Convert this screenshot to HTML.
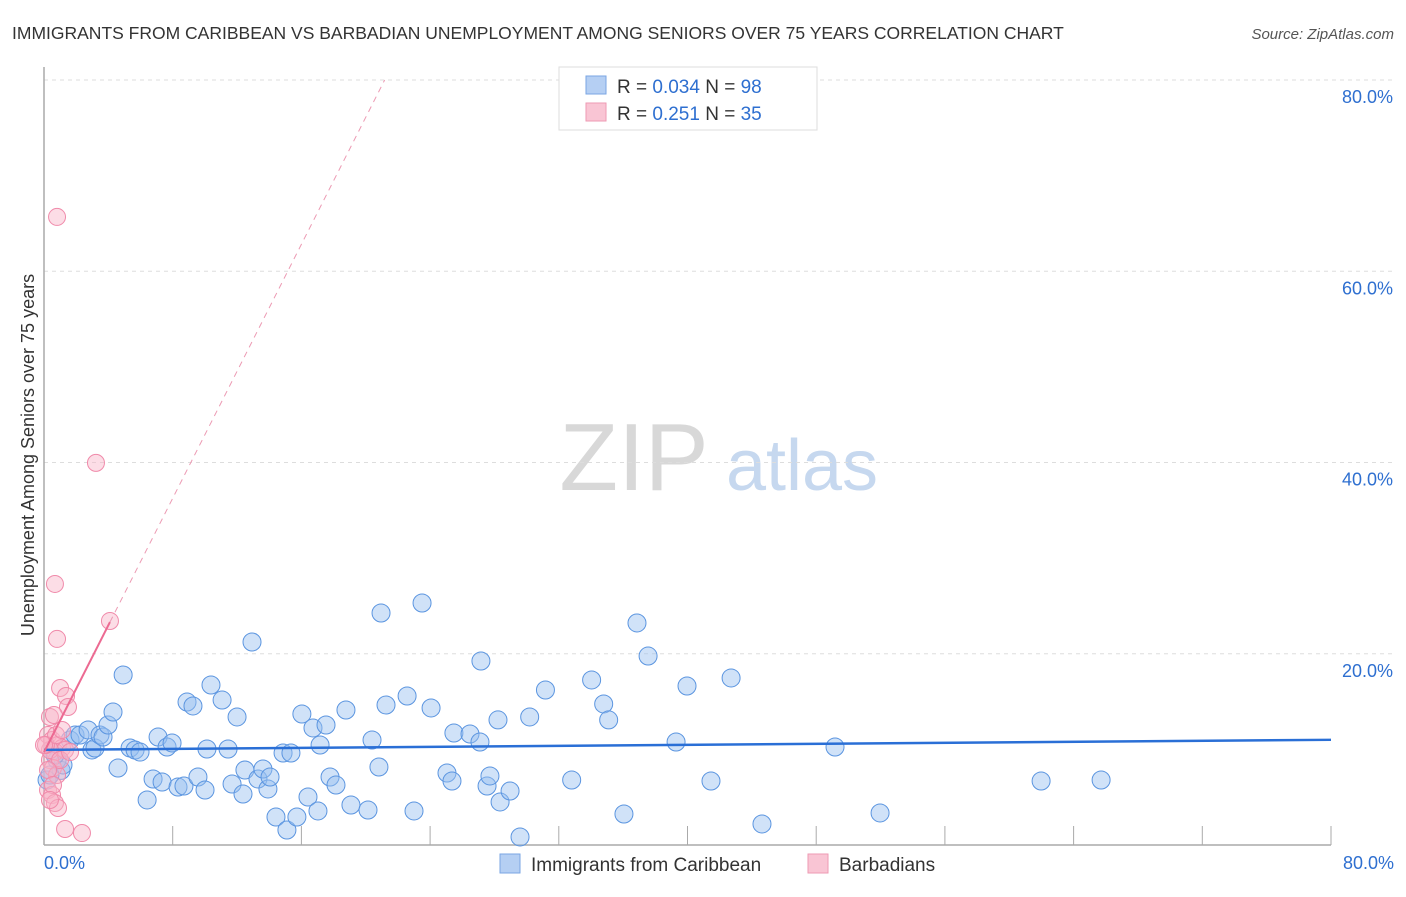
<!DOCTYPE html>
<html><head><meta charset="utf-8"><style>
body{margin:0;background:#fff;font-family:"Liberation Sans",sans-serif;}
svg text{font-family:"Liberation Sans",sans-serif;}
</style></head><body>
<svg width="1406" height="892" xmlns="http://www.w3.org/2000/svg">
<text x="12" y="39" font-size="17.5" fill="#333">IMMIGRANTS FROM CARIBBEAN VS BARBADIAN UNEMPLOYMENT AMONG SENIORS OVER 75 YEARS CORRELATION CHART</text>
<text x="1394" y="39" font-size="15" fill="#555" font-style="italic" text-anchor="end">Source: ZipAtlas.com</text>
<g>
<text x="634" y="490" font-size="96" fill="#d8d8d8" font-family="Liberation Serif,serif" text-anchor="middle">ZIP</text>
<text x="802" y="490" font-size="72" fill="#c6d8ef" text-anchor="middle">atlas</text>
</g>
<g id="grid"></g>
<g id="axes"></g>
<text transform="translate(34,455) rotate(-90)" font-size="18" fill="#333" text-anchor="middle">Unemployment Among Seniors over 75 years</text>
<g id="points"></g>
<g id="trends"></g>
<g>
<rect x="559" y="67" width="258" height="63" fill="#fff" stroke="#ddd"/>
<rect x="586" y="76" width="20" height="18" fill="#b5cff3" stroke="#7aa6e3"/>
<text x="617" y="93" font-size="19" fill="#333">R = <tspan fill="#2e6fd0">0.034</tspan>   N = <tspan fill="#2e6fd0">98</tspan></text>
<rect x="586" y="103" width="20" height="18" fill="#f9c5d4" stroke="#ee9ab3"/>
<text x="617" y="120" font-size="19" fill="#333">R =  <tspan fill="#2e6fd0">0.251</tspan>   N = <tspan fill="#2e6fd0">35</tspan></text>
</g>
<g>
<rect x="500" y="854" width="20" height="19" fill="#b5cff3" stroke="#7aa6e3"/>
<text x="531" y="871" font-size="19" fill="#333">Immigrants from Caribbean</text>
<rect x="808" y="854" width="20" height="19" fill="#f9c5d4" stroke="#ee9ab3"/>
<text x="839" y="871" font-size="19" fill="#333">Barbadians</text>
</g>
</svg>
<script>
const yTicks=[20,40,60,80];
const yTickLabels=["20.0%","40.0%","60.0%","80.0%"];
const xTicks=[0,8,16,24,32,40,48,56,64,72,80];
const xEndLabels=["0.0%","80.0%"];
const blueX=[1.06,0.81,1.18,1.62,1.93,2.24,2.74,2.98,3.17,3.48,3.67,3.98,4.29,4.6,4.92,5.35,5.66,5.97,6.41,6.78,7.09,7.34,7.65,7.96,8.33,8.7,8.89,9.26,9.57,10.01,10.13,10.38,11.07,11.44,11.69,12.0,12.37,12.49,12.93,13.3,13.61,13.92,14.05,14.42,14.86,15.1,15.35,15.72,16.03,16.41,16.72,17.03,17.16,17.53,17.78,18.15,18.77,19.08,20.14,20.39,20.82,20.95,21.26,22.57,23.0,23.5,24.06,25.05,25.36,25.48,26.48,27.1,27.16,27.54,27.72,28.22,28.35,28.97,29.59,30.19,31.17,32.8,34.04,34.79,35.1,36.05,36.86,37.55,39.29,39.97,41.46,42.71,44.63,49.17,51.97,61.98,65.71,0.19,0.37,0.68];
const blueY=[7.8,8.89,8.37,10.98,11.5,11.5,12.03,9.94,10.14,11.5,11.29,12.55,13.91,8.05,17.78,10.14,9.93,9.72,4.71,6.9,11.29,6.59,10.25,10.67,6.06,6.17,14.95,14.54,7.11,5.75,10.04,16.73,15.16,10.04,6.38,13.39,5.33,7.84,21.23,6.9,7.95,5.86,7.11,2.93,9.62,1.57,9.62,2.93,13.7,5.02,12.24,3.56,10.46,12.55,7.11,6.27,14.12,4.18,3.66,10.98,8.16,24.26,14.64,15.58,3.56,25.31,14.33,7.53,6.69,11.71,11.61,10.77,19.24,6.17,7.22,13.08,4.5,5.65,0.84,13.39,16.21,6.8,17.26,14.75,13.08,3.24,23.22,19.76,10.77,16.63,6.69,17.47,2.2,10.25,3.35,6.69,6.8,6.8,7.32,9.41];
const pinkX=[0.81,3.23,0.68,0.81,4.1,1.0,1.37,1.49,0.37,0.62,0.25,0.5,0.87,1.12,0.68,1.31,0.37,0.56,0.81,0.25,0.5,0.68,0.87,1.31,2.36,0.37,0.12,1.0,1.62,0.25,0.56,0.75,1.12,0.0,0.37];
const pinkY=[65.68,39.96,27.3,21.55,23.43,16.42,15.58,14.43,13.39,13.6,11.5,10.98,10.46,10.14,9.72,9.93,8.89,8.05,7.32,5.75,5.23,4.39,3.87,1.67,1.25,9.93,10.46,8.89,9.72,7.84,6.27,11.5,12.03,10.46,4.71];
const blueTrend=[9.95,11.0];
const pinkTrendStart=[0,9.7];const pinkSolidEndX=4.1;const pinkSlope=3.32;
const X=v=>44+v/80*1287, Y=v=>845-v/80*765;
const NS="http://www.w3.org/2000/svg";
function mk(t,a,p){const e=document.createElementNS(NS,t);for(const k in a)e.setAttribute(k,a[k]);p.appendChild(e);return e;}
const grid=document.getElementById('grid'),axes=document.getElementById('axes'),pts=document.getElementById('points'),tr=document.getElementById('trends');
yTicks.forEach((v,i)=>{
 const l=mk('line',{x1:44,x2:1394,y1:Y(v),y2:Y(v),stroke:'#ddd','stroke-dasharray':'4,4'},grid);
 
 
 const t=mk('text',{x:1393,y:Y(v)+23,'font-size':18,fill:'#2e6fd0','text-anchor':'end'},grid);t.textContent=yTickLabels[i];
 
 
});
const ya=mk('line',{x1:44,x2:44,y1:67,y2:845,stroke:'#aaa','stroke-width':1.5},axes);


const xa=mk('line',{x1:44,x2:1331,y1:845,y2:845,stroke:'#aaa','stroke-width':1.5},axes);


xTicks.slice(1).forEach(v=>{const t=mk('line',{x1:X(v),x2:X(v),y1:826,y2:845,stroke:'#aaa'},axes);
 
 });
[[0,'start',44],[80,'end',1394]].forEach((d,i)=>{const t=mk('text',{x:d[2],y:869,'font-size':18,fill:'#2e6fd0','text-anchor':d[1]},axes);t.textContent=xEndLabels[i];
 
 });
blueX.forEach((x,i)=>{const c=mk('circle',{cx:X(x),cy:Y(blueY[i]),r:9,fill:'rgba(150,190,240,0.45)',stroke:'#5b95e0','stroke-width':1},pts);
 
 });
pinkX.forEach((x,i)=>{const c=mk('circle',{cx:X(x),cy:Y(pinkY[i]),r:8.5,fill:'rgba(248,180,200,0.45)',stroke:'#f08aaa','stroke-width':1},pts);
 
 });
const bt=mk('line',{x1:X(0),y1:Y(blueTrend[0]),x2:X(80),y2:Y(blueTrend[1]),stroke:'#2a6fd6','stroke-width':2.5},tr);


const py=x=>pinkTrendStart[1]+pinkSlope*x;
const ps=mk('line',{x1:X(0),y1:Y(py(0)),x2:X(pinkSolidEndX),y2:Y(py(pinkSolidEndX)),stroke:'#ec6a92','stroke-width':2},tr);


const xEnd=(80-pinkTrendStart[1])/pinkSlope;
const pd=mk('line',{x1:X(pinkSolidEndX),y1:Y(py(pinkSolidEndX)),x2:X(xEnd),y2:Y(80),stroke:'#ec9ab3','stroke-width':1,'stroke-dasharray':'6,5'},tr);


</script>
</body></html>
